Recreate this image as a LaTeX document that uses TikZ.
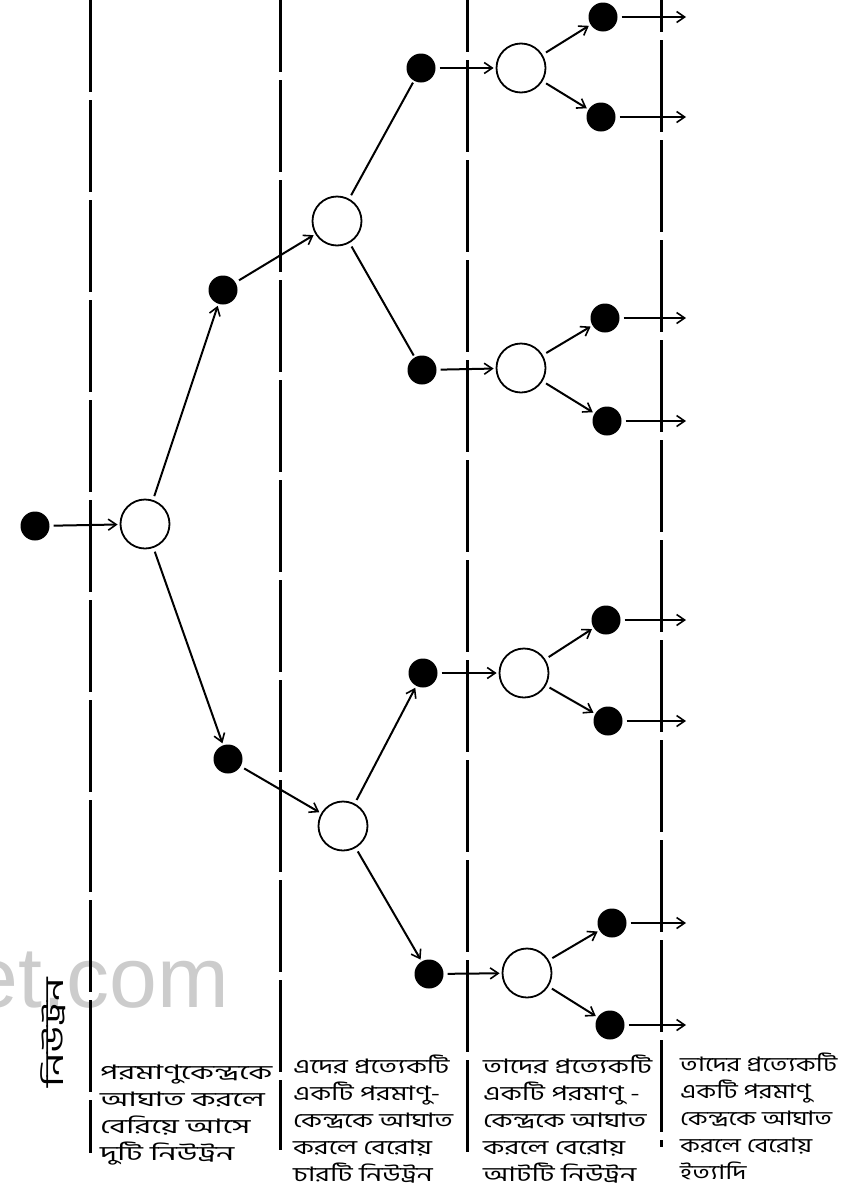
\documentclass[tikz,border=0pt]{standalone}
\usepackage{fontspec}
\usepackage{graphicx}
\newfontfamily\bn[Script=Bengali]{Hind Siliguri}
\newfontfamily\wm{Liberation Sans}
\usetikzlibrary{arrows.meta}
\newcommand\bnlines[2]{\scalebox{#1}[1]{\begin{tabular}{@{}l@{}}#2\end{tabular}}}
\begin{document}
\begin{tikzpicture}[x=1pt,y=-1pt,
  neutron/.style={circle, fill=black, minimum size=29pt, inner sep=0pt},
  nucleus/.style={circle, draw, line width=1.8pt, minimum size=49pt, inner sep=0pt},
  conn/.style={line width=2pt, shorten <=4pt, shorten >=2pt},
  arr/.style={conn, -{Straight Barb[length=8pt,width=11pt,line width=1.6pt]}},
  divider/.style={line width=3pt, dash pattern=on 92pt off 8pt},
  txt/.style={anchor=north west, align=left, inner sep=0pt, font=\bn\fontsize{20}{27}\selectfont}]
\useasboundingbox (0,0) rectangle (865,1197);
% watermark
\node[anchor=base east, inner sep=0pt, text=black!20, font=\wm\fontsize{86}{86}\selectfont] (wm) at (229,1007) {et.com};
% dividers
\draw[divider] (90,0) coordinate (d1a) -- (90,1153) coordinate (d1b);
\draw[divider, dash phase=20pt] (280,0) coordinate (d2a) -- (280,1150) coordinate (d2b);
\draw[divider, dash phase=40pt] (467,0) coordinate (d3a) -- (467,1153) coordinate (d3b);
\draw[divider, dash phase=60pt] (661,0) coordinate (d4a) -- (661,1147) coordinate (d4b);
% level 0
\node[neutron] (n0) at (35,526) {};
\node[nucleus] (c0) at (145,524) {};
% level 1
\node[neutron] (n1a) at (223,290) {};
\node[neutron] (n1b) at (228,759) {};
\node[nucleus] (c1a) at (337,221) {};
\node[nucleus] (c1b) at (343,826) {};
% level 2
\node[neutron] (n2a) at (421,68) {};
\node[neutron] (n2b) at (422,370) {};
\node[neutron] (n2c) at (423,673) {};
\node[neutron] (n2d) at (429,974) {};
\node[nucleus] (c2a) at (521,68) {};
\node[nucleus] (c2b) at (521,368) {};
\node[nucleus] (c2c) at (524,673) {};
\node[nucleus] (c2d) at (527,973) {};
% level 3
\node[neutron] (n3a) at (603,17) {};
\node[neutron] (n3b) at (601,117) {};
\node[neutron] (n3c) at (605,318) {};
\node[neutron] (n3d) at (607,421) {};
\node[neutron] (n3e) at (606,620) {};
\node[neutron] (n3f) at (608,721) {};
\node[neutron] (n3g) at (612,923) {};
\node[neutron] (n3h) at (610,1025) {};
\foreach \n/\y in {a/17,b/117,c/318,d/421,e/620,f/721,g/923,h/1025}
  \coordinate (e\n) at (686,\y);
% connectors
\draw[arr] (n0) -- (c0);
\draw[arr] (c0) -- (n1a);
\draw[arr] (c0) -- (n1b);
\draw[arr] (n1a) -- (c1a);
\draw[arr] (n1b) -- (c1b);
\draw[conn] (c1a) -- (n2a);
\draw[conn] (c1a) -- (n2b);
\draw[arr] (c1b) -- (n2c);
\draw[arr] (c1b) -- (n2d);
\draw[arr] (n2a) -- (c2a);
\draw[arr] (n2b) -- (c2b);
\draw[arr] (n2c) -- (c2c);
\draw[arr] (n2d) -- (c2d);
\draw[arr] (c2a) -- (n3a);
\draw[arr] (c2a) -- (n3b);
\draw[arr] (c2b) -- (n3c);
\draw[arr] (c2b) -- (n3d);
\draw[arr] (c2c) -- (n3e);
\draw[arr] (c2c) -- (n3f);
\draw[arr] (c2d) -- (n3g);
\draw[arr] (c2d) -- (n3h);
\foreach \n in {a,b,c,d,e,f,g,h}
  \draw[arr, shorten >=0pt] (n3\n) -- (e\n);
% labels
\node[rotate=90, inner sep=0pt, font=\bn\fontsize{26}{30}\selectfont] (lab0) at (53,1033) {\scalebox{1.6}[1]{নিউট্রন}};
\node[txt] (lab1) at (100,1060) {\bnlines{1.6}{পরমাণুকেন্দ্রকে\\আঘাত করলে\\বেরিয়ে আসে\\দুটি নিউট্রন}};
\node[txt] (lab2) at (293,1054) {\bnlines{1.4}{এদের প্রত্যেকটি\\ একটি পরমাণু-\\কেন্দ্রকে আঘাত\\করলে বেরোয়\\চারটি নিউট্রন}};
\node[txt] (lab3) at (483,1054) {\bnlines{1.43}{তাদের প্রত্যেকটি\\ একটি পরমাণু -\\কেন্দ্রকে আঘাত\\করলে বেরোয়\\আটটি নিউট্রন}};
\node[txt] (lab4) at (680,1052) {\bnlines{1.33}{তাদের প্রত্যেকটি\\ একটি পরমাণু\\কেন্দ্রকে আঘাত\\করলে বেরোয়\\ইত্যাদি}};
\end{tikzpicture}
\end{document}
